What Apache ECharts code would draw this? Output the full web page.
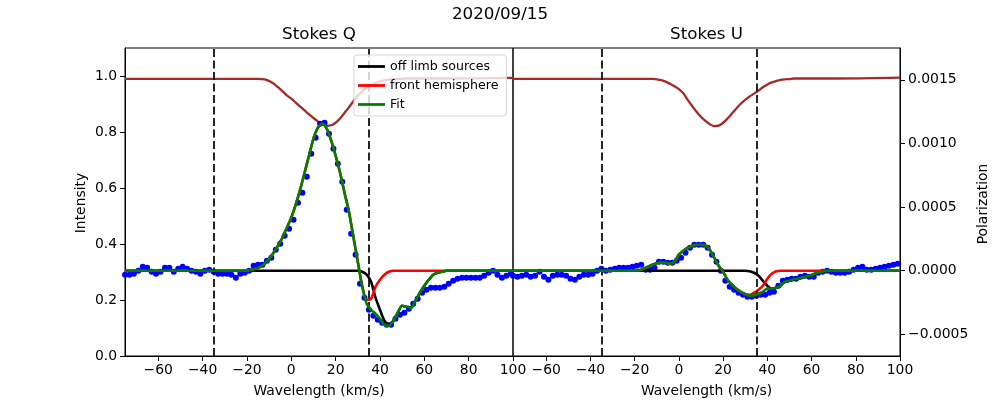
<!DOCTYPE html>
<html><head><meta charset="utf-8">
<script src="https://cdn.jsdelivr.net/npm/echarts@6/dist/echarts.min.js"></script>
<style>html,body{margin:0;padding:0;background:#fff}#c{width:1000px;height:400px}</style>
</head><body><div id="c"></div>
<script>
// ---- data ----
const dotV = [-75,-73,-71,-69,-67,-65,-63,-61,-59,-57,-55,-53,-51,-49,-47,-45,-43,-41,-39,-37,-35,-33,-31,-29,-27,-25,-23,-21,-19,-17,-15,-13,-11,-9,-7,-5,-3,-1,1,3,5,7,9,11,13,15,17,19,21,23,25,27,29,31,33,35,37,39,41,43,45,47,49,51,53,55,57,59,61,63,65,67,69,71,73,75,77,79,81,83,85,87,89,91,93,95,97,99];
const stokesQ = [-0.000031,-0.000031,-0.000024,0,0.000031,0.000024,-0.000008,-0.000024,-0.000008,0.000024,0.000024,-0.000008,0.000016,0.000031,0.000016,0,-0.000008,-0.000024,0,0.000008,-0.000008,-0.000024,-0.000024,-0.000024,-0.000031,-0.000055,-0.000024,-0.000016,0,0.000039,0.000047,0.000047,0.000079,0.000102,0.000165,0.000212,0.000275,0.00033,0.000401,0.000534,0.000613,0.000739,0.000919,0.001045,0.001155,0.001163,0.001077,0.000959,0.000841,0.0007,0.000479,0.000291,0.000126,-0.000102,-0.000212,-0.000307,-0.000354,-0.000385,-0.000409,-0.000424,-0.000424,-0.000377,-0.000346,-0.00033,-0.000299,-0.000259,-0.00022,-0.000173,-0.000149,-0.000134,-0.000134,-0.000134,-0.000126,-0.000102,-0.000079,-0.000063,-0.000055,-0.000055,-0.000055,-0.000055,-0.000055,-0.000039,-0.000016,0,-0.000031,-0.000055,-0.000039,-0.000024];
const stokesU = [-0.000039,-0.000047,-0.000039,-0.000031,-0.000047,-0.000039,-0.000008,-0.000047,-0.000071,-0.000039,-0.000031,-0.000031,-0.000039,-0.000063,-0.000071,-0.000047,-0.000031,-0.000031,-0.000024,0,0.000016,0,0.000008,0.000016,0.000024,0.000024,0.000024,0.000031,0.000039,0.000047,0.000008,0.000008,0.000024,0.000071,0.000071,0.000063,0.000063,0.000079,0.000102,0.000141,0.000181,0.000204,0.000204,0.000204,0.000181,0.000126,0.000071,0,-0.000079,-0.000126,-0.000149,-0.000173,-0.000189,-0.000204,-0.000204,-0.000197,-0.000189,-0.000189,-0.000173,-0.000165,-0.000118,-0.000079,-0.000071,-0.000063,-0.000063,-0.000047,-0.000039,-0.000047,-0.000047,-0.000016,-0.000008,0,-0.000008,-0.000016,-0.000016,-0.000016,-0.000008,0.000008,0.000024,0.000031,0.000008,0.000008,0.000016,0.000024,0.000031,0.000039,0.000047,0.000055];

const modelV = [-75,-20,-18,-16,-14,-12,-10,-8,-6,-4,-2,0,2,4,6,8,10,12,14,16,18,20,22,24,26,28,30,32,34,36,38,40,42,44,46,48,50,52,54,56,58,60,62,64,66,68,70,100];
const intensityQ = [0.990,0.990,0.990,0.990,0.989,0.988,0.982,0.973,0.960,0.946,0.931,0.919,0.905,0.891,0.877,0.863,0.850,0.838,0.828,0.822,0.824,0.833,0.848,0.868,0.888,0.910,0.930,0.945,0.958,0.968,0.975,0.980,0.984,0.987,0.989,0.990,0.990,0.991,0.991,0.991,0.991,0.991,0.991,0.991,0.991,0.991,0.991,0.993];
const intensityU = [0.990,0.990,0.990,0.990,0.990,0.990,0.988,0.985,0.980,0.972,0.963,0.953,0.938,0.915,0.893,0.872,0.854,0.840,0.828,0.821,0.823,0.833,0.848,0.866,0.884,0.901,0.915,0.927,0.937,0.948,0.960,0.970,0.977,0.982,0.986,0.988,0.989,0.991,0.991,0.991,0.991,0.991,0.991,0.991,0.991,0.991,0.991,0.994];

const fitQ = [0,0,0.000008,0.000016,0.000031,0.000055,0.000094,0.000141,0.000197,0.000259,0.000338,0.000417,0.000519,0.000637,0.00077,0.000904,0.001038,0.001124,0.001155,0.001116,0.001022,0.000904,0.00077,0.000613,0.000464,0.000267,0.000071,-0.000126,-0.000259,-0.000307,-0.000338,-0.000377,-0.000424,-0.000432,-0.000393,-0.00033,-0.000275,-0.000283,-0.000291,-0.000236,-0.000173,-0.000118,-0.000071,-0.000031,-0.000016,-0.000008,0,0];
const frontQ = [0,0,0.000008,0.000016,0.000031,0.000055,0.000094,0.000141,0.000197,0.000259,0.000338,0.000417,0.000519,0.000637,0.00077,0.000904,0.001038,0.001124,0.001155,0.001116,0.001022,0.000904,0.00077,0.000613,0.000464,0.000267,0.000071,-0.000118,-0.000228,-0.00022,-0.000126,-0.000071,-0.000031,-0.000008,0,0,0,0,0,0,0,0,0,0,0,0,0,0];
const offLimbQ = [0,0,0,0,0,0,0,0,0,0,0,0,0,0,0,0,0,0,0,0,0,0,0,0,0,0,0,-0.000008,-0.000031,-0.000086,-0.000212,-0.000307,-0.000393,-0.000424,-0.000393,-0.00033,-0.000275,-0.000283,-0.000291,-0.000236,-0.000173,-0.000118,-0.000071,-0.000031,-0.000016,-0.000008,0,0];

const fitU = [0,0,0.000004,0.000016,0.000031,0.000047,0.000059,0.000063,0.000063,0.000055,0.000071,0.000126,0.000157,0.000181,0.000197,0.000204,0.000204,0.0002,0.000165,0.000102,0.000039,-0.000008,-0.000071,-0.00011,-0.000141,-0.000165,-0.000185,-0.000197,-0.000193,-0.000181,-0.000165,-0.000141,-0.000141,-0.000134,-0.000118,-0.000086,-0.000079,-0.000067,-0.000063,-0.000051,-0.000043,-0.000035,-0.00002,-0.000012,-0.000004,0,0,0];
const frontU = [0,0,0.000004,0.000016,0.000031,0.000047,0.000059,0.000063,0.000063,0.000055,0.000071,0.000126,0.000157,0.000181,0.000197,0.000204,0.000204,0.0002,0.000165,0.000102,0.000039,-0.000008,-0.000071,-0.00011,-0.000141,-0.000165,-0.000185,-0.000189,-0.000173,-0.000149,-0.000118,-0.000063,-0.000024,-0.000004,0,0,0,0,0,0,0,0,0,0,0,0,0,0];
const offLimbU = [0,0,0,0,0,0,0,0,0,0,0,0,0,0,0,0,0,0,0,0,0,0,0,0,0,0,0,-0.000004,-0.000016,-0.000039,-0.000079,-0.000118,-0.000141,-0.000134,-0.000118,-0.000086,-0.000079,-0.000067,-0.000063,-0.000051,-0.000043,-0.000035,-0.00002,-0.000012,-0.000004,0,0,0];

const xTicks = [-60,-40,-20,0,20,40,60,80,100];
const intensityTicks = [0,0.2,0.4,0.6,0.8,1.0];
const polTicks = [-0.0005,0,0.0005,0.001,0.0015];
const dashedV = [-35,35];
const legendNames = ['off limb sources','front hemisphere','Fit'];

// ---- chart ----
const FONT = 'DejaVu Sans';
const minus = s => String(s).replace('-', '\u2212');
const pair = (xs, ys) => xs.map((x, i) => [x, ys[i]]);
const chart = echarts.init(document.getElementById('c'), null, {renderer:'canvas'});

const grids = [
  {left:125, right:487, top:48, bottom:44},
  {left:513, right:100, top:48, bottom:44}
].map(g => Object.assign(g, {show:true, borderColor:'#000', borderWidth:1, backgroundColor:'transparent', containLabel:false}));

function xAxisFor(i) {
  return {type:'value', gridIndex:i, min:-75, max:100,
    splitLine:{show:false},
    axisLine:{show:true, onZero:false, lineStyle:{color:'#000', width:1}},
    axisTick:{show:true, customValues:xTicks, length:5, lineStyle:{color:'#000', width:1}},
    axisLabel:{customValues:xTicks, formatter:v=>minus(v), color:'#000', fontSize:13.9, fontFamily:FONT, margin:7}};
}
const yAxes = [
  {type:'value', gridIndex:0, position:'left', min:0, max:1.1,
    splitLine:{show:false},
    axisLine:{show:true, onZero:false, lineStyle:{color:'#000'}},
    axisTick:{show:true, customValues:intensityTicks, length:5, lineStyle:{color:'#000'}},
    axisLabel:{customValues:intensityTicks, formatter:v=>v.toFixed(1), color:'#000', fontSize:13.9, fontFamily:FONT, margin:8}},
  {type:'value', gridIndex:0, position:'right', min:-0.00067, max:0.00175, show:false, splitLine:{show:false},
    axisLine:{show:false, onZero:false}},
  {type:'value', gridIndex:1, position:'left', min:0, max:1.1, splitLine:{show:false},
    axisLine:{show:false, onZero:false}, axisTick:{show:false}, axisLabel:{show:false}},
  {type:'value', gridIndex:1, position:'right', min:-0.00067, max:0.00175,
    splitLine:{show:false},
    axisLine:{show:true, onZero:false, lineStyle:{color:'#000'}},
    axisTick:{show:true, customValues:polTicks, length:5, lineStyle:{color:'#000'}},
    axisLabel:{customValues:polTicks, formatter:v=>minus(v.toFixed(4)), color:'#000', fontSize:13.9, fontFamily:FONT, margin:8}}
];

function lineS(name, xi, yi, xs, ys, color, width, z, extra) {
  return Object.assign({type:'line', name, xAxisIndex:xi, yAxisIndex:yi, data:pair(xs, ys),
    showSymbol:false, symbol:'none', smooth:0.25, z, silent:true,
    lineStyle:{color, width}, itemStyle:{color}, emphasis:{disabled:true}}, extra || {});
}
function panel(g, intensity, dots, off, front, fit) {
  const yI = g*2, yP = g*2+1;
  return [
    lineS('Intensity'+g, g, yI, modelV, intensity, '#a52a2a', 2.3, 1, {smooth:0.35,
      markLine:{silent:true, symbol:['none','none'], label:{show:false}, emphasis:{disabled:true},
        lineStyle:{color:'#000', type:[8,3.5], width:1.7},
        data:dashedV.map(v => ({xAxis:v}))}}),
    {type:'scatter', name:'data'+g, xAxisIndex:g, yAxisIndex:yP, data:pair(dotV, dots),
      symbol:'circle', symbolSize:6, itemStyle:{color:'#0000ff', opacity:1}, z:2, silent:true, emphasis:{disabled:true}},
    lineS(legendNames[0], g, yP, modelV, off, '#000000', 2.6, 3),
    lineS(legendNames[1], g, yP, modelV, front, '#ff0000', 2.6, 4),
    lineS(legendNames[2], g, yP, modelV, fit, '#008000', 2.6, 5)
  ];
}

function txt(text, x, y, size, rot) {
  return {type:'text', x, y, rotation:rot||0, z:100, silent:true,
    style:{text, fill:'#000', fontSize:size, fontFamily:FONT, align:'center', verticalAlign:'middle',
      textAlign:'center', textVerticalAlign:'middle'}};
}

chart.setOption({
  animation:false,
  grid:grids,
  xAxis:[xAxisFor(0), xAxisFor(1)],
  yAxis:yAxes,
  legend:{data:legendNames, orient:'vertical', left:354, top:55, icon:'rect', itemWidth:27, itemHeight:2.8,
    itemGap:6, padding:[5,8,5,4], backgroundColor:'rgba(255,255,255,0.8)', borderColor:'#d5d5d5',
    borderWidth:1, borderRadius:3, selectedMode:false, z:50,
    textStyle:{color:'#000', fontSize:12.6, fontFamily:FONT}},
  series:[...panel(0, intensityQ, stokesQ, offLimbQ, frontQ, fitQ), ...panel(1, intensityU, stokesU, offLimbU, frontU, fitU)],
  graphic:[
    txt('2020/09/15', 500, 15, 16.7),
    txt('Stokes Q', 319, 35, 16.7),
    txt('Stokes U', 706.5, 35, 16.7),
    txt('Wavelength (km/s)', 319, 391, 13.9),
    txt('Wavelength (km/s)', 706.5, 391, 13.9),
    txt('Intensity', 81, 203, 13.9, Math.PI/2),
    txt('Polarization', 983, 204, 13.9, Math.PI/2)
  ]
});
</script></body></html>
